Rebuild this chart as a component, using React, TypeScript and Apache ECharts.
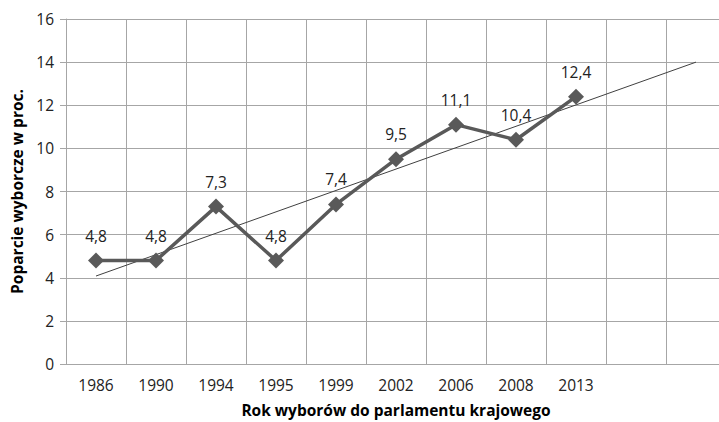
import React, { useEffect, useRef } from "react";
import * as echarts from "echarts";

const categories = ["1986", "1990", "1994", "1995", "1999", "2002", "2006", "2008", "2013", "", ""];
const support = [4.8, 4.8, 7.3, 4.8, 7.4, 9.5, 11.1, 10.4, 12.4];
// linear trendline endpoints (first category, last category)
const trendIndex = [0, 10];
const trendValue = [4.08, 14.0];
const yTicks = { min: 0, max: 16, interval: 2 };

const FONT = "Open Sans";

export default function App() {
  const ref = useRef<HTMLDivElement>(null);
  useEffect(() => {
    if (!ref.current) return;
    const chart = echarts.init(ref.current, undefined, { renderer: "svg" });
    const gridColor = "#a6a6a6";
    chart.setOption({
      animation: false,
      backgroundColor: "#ffffff",
      grid: { left: 66, top: 19, width: 660, height: 345, outerBoundsMode: "none", containLabel: false },
      xAxis: {
        type: "category",
        data: categories,
        boundaryGap: true,
        name: "Rok wyborów do parlamentu krajowego",
        nameLocation: "middle",
        nameGap: 38,
        nameTextStyle: { fontFamily: FONT, fontSize: 15.5, fontWeight: "bold", color: "#000" },
        axisLine: { show: true, lineStyle: { color: gridColor, width: 1 } },
        axisTick: { show: false },
        axisLabel: { fontFamily: FONT, fontSize: 15.5, color: "#222", margin: 13, interval: 0 },
        splitLine: { show: true, interval: 0, lineStyle: { color: gridColor, width: 1 } },
      },
      yAxis: {
        type: "value",
        min: yTicks.min,
        max: yTicks.max,
        interval: yTicks.interval,
        name: "Poparcie wyborcze w proc.",
        nameLocation: "middle",
        nameGap: 40,
        nameTextStyle: { fontFamily: FONT, fontSize: 15.5, fontWeight: "bold", color: "#000" },
        axisLine: { show: true, lineStyle: { color: gridColor, width: 1 } },
        axisTick: { show: true, length: 6, lineStyle: { color: gridColor } },
        axisLabel: { fontFamily: FONT, fontSize: 15.5, color: "#222", margin: 12 },
        splitLine: { show: true, lineStyle: { color: gridColor, width: 1 } },
      },
      series: [
        {
          type: "line",
          data: trendIndex.map((x, i) => [x, trendValue[i]]),
          symbol: "none",
          lineStyle: { color: "#404040", width: 1 },
          silent: true,
          z: 3,
        },
        {
          type: "line",
          data: support,
          symbol: "diamond",
          symbolSize: 16,
          itemStyle: { color: "#595959" },
          lineStyle: { color: "#595959", width: 3.5 },
          label: {
            show: true,
            position: "top",
            distance: 9,
            fontFamily: FONT,
            fontSize: 15.5,
            color: "#222",
            formatter: (p: any) => String(p.value).replace(".", ","),
          },
          z: 4,
        },
      ],
    });
    return () => chart.dispose();
  }, []);
  return (
    <div
      ref={ref}
      style={{ position: "fixed", left: 0, top: 0, width: 719, height: 422, background: "#fff" }}
    />
  );
}
